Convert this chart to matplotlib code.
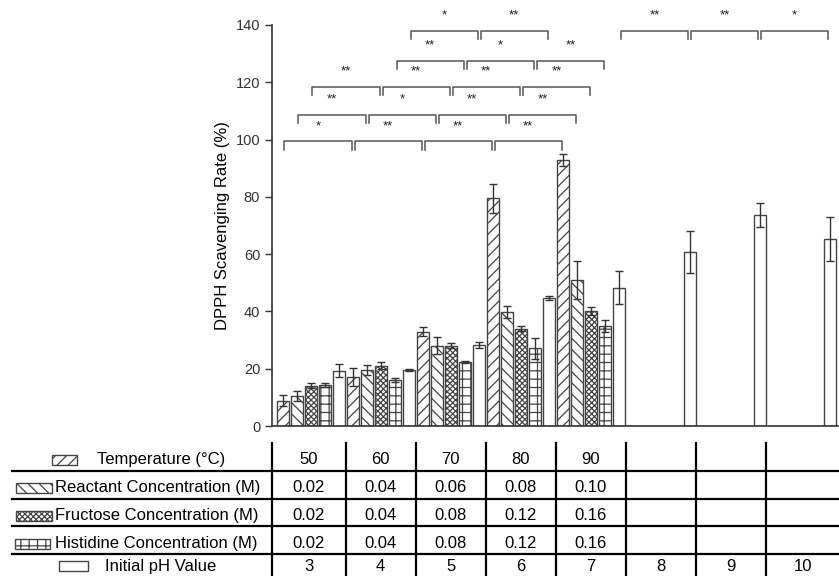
import numpy as np
import matplotlib
matplotlib.use("Agg")
import matplotlib.pyplot as plt
from matplotlib.patches import Rectangle

plt.rcParams['font.family'] = ['Liberation Sans', 'DejaVu Sans']
plt.rcParams['hatch.linewidth'] = 0.9

# data
temp_vals = [8.9, 17.0, 32.9, 79.5, 92.8]
temp_err = [2.0, 3.2, 1.6, 5.0, 2.0]
react_vals = [10.6, 19.6, 28.1, 39.8, 51.0]
react_err = [1.7, 1.7, 2.8, 2.1, 6.6]
fruc_vals = [14.1, 21.1, 28.1, 34.0, 40.1]
fruc_err = [1.0, 1.1, 1.0, 1.0, 1.4]
hist_vals = [14.3, 16.1, 22.3, 27.1, 34.9]
hist_err = [0.6, 0.6, 0.3, 3.7, 2.0]
ph_vals = [19.3, 19.6, 28.3, 44.6, 48.3, 60.8, 73.7, 65.4]
ph_err = [2.2, 0.3, 0.9, 0.7, 5.8, 7.3, 4.3, 7.7]

row_labels = ['Temperature (°C)', 'Reactant Concentration (M)', 'Fructose Concentration (M)',
              'Histidine Concentration (M)', 'Initial pH Value']
temp_levels = ['50', '60', '70', '80', '90']
react_levels = ['0.02', '0.04', '0.06', '0.08', '0.10']
fruc_levels = ['0.02', '0.04', '0.08', '0.12', '0.16']
hist_levels = ['0.02', '0.04', '0.08', '0.12', '0.16']
ph_levels = ['3', '4', '5', '6', '7', '8', '9', '10']

# significance comparisons: (group a, group b, label)
temp_sig = [(0, 1, '*'), (1, 2, '**'), (2, 3, '**'), (3, 4, '**')]
react_sig = [(0, 1, '**'), (1, 2, '*'), (2, 3, '**'), (3, 4, '**')]
fruc_sig = [(0, 1, '**'), (1, 2, '**'), (2, 3, '**'), (3, 4, '**')]
hist_sig = [(1, 2, '**'), (2, 3, '*'), (3, 4, '**')]
ph_sig = [(1, 2, '*'), (2, 3, '**'), (4, 5, '**'), (5, 6, '**'), (6, 7, '*')]

# layout
W, H = 839, 576
unit = 70.1          # px per pH column
x0_px = 272
xmax = (W - x0_px) / unit
bw = 0.171
offsets = [0.157, 0.357, 0.557, 0.757, 0.957]
edge = '#444444'

fig = plt.figure(figsize=(W / 100, H / 100), dpi=100)
ax = fig.add_axes([x0_px / W, 1 - 426 / H, (W - x0_px) / W, 401 / H])

series = [
    (temp_vals, temp_err, '///', 'white'),
    (react_vals, react_err, '\\\\\\', 'white'),
    (fruc_vals, fruc_err, 'xxxxxx', 'white'),
    (hist_vals, hist_err, '++', 'white'),
]
centers = []
for k, (vals, errs, hatch, fc) in enumerate(series):
    xs = np.arange(len(vals)) + offsets[k]
    centers.append(xs)
    ax.bar(xs, vals, width=bw, color=fc, edgecolor=edge, hatch=hatch, linewidth=1.0,
           yerr=errs, capsize=3, error_kw=dict(ecolor='#333333', elinewidth=1, capthick=1))
xs_ph = np.arange(len(ph_vals)) + offsets[4]
centers.append(xs_ph)
ax.bar(xs_ph, ph_vals, width=bw, color='white', edgecolor=edge, linewidth=1.0,
       yerr=ph_err, capsize=3, error_kw=dict(ecolor='#333333', elinewidth=1, capthick=1))

ax.set_xlim(0, xmax)
ax.set_ylim(0, 140)
ax.set_yticks(np.arange(0, 141, 20))
ax.set_xticks([])
ax.tick_params(axis='y', direction='out', length=5, width=1, labelsize=10.5, colors='#333333')
for s in ['top', 'right']:
    ax.spines[s].set_visible(False)
for s in ['left', 'bottom']:
    ax.spines[s].set_color('#333333')
    ax.spines[s].set_linewidth(1.2)
ax.set_ylabel('DPPH Scavenging Rate (%)', fontsize=12, labelpad=4)

# significance brackets
levels = [99.4, 108.7, 118.4, 127.5, 138.0]
sigs = [temp_sig, react_sig, fruc_sig, hist_sig, ph_sig]
for k, (lev, sig) in enumerate(zip(levels, sigs)):
    for a, b, lab in sig:
        xa = centers[k][a] + 0.02
        xb = centers[k][b] - 0.02
        ax.plot([xa, xa, xb, xb], [lev - 3, lev, lev, lev - 3], color='#555555',
                lw=1.1, clip_on=False)
        ax.text((xa + xb) / 2, lev + 3.2, lab, ha='center', va='bottom', fontsize=9.5,
                color='#222222', clip_on=False)

# table below the plot
row_h = 27.9
tab_top = 442.7
nrows = (H - tab_top) / row_h
tab = fig.add_axes([x0_px / W, 0, (W - x0_px) / W, (H - tab_top) / H])
tab.set_xlim(0, xmax)
tab.set_ylim(nrows, 0)
tab.axis('off')

left_x = (12 - x0_px) / unit
for r in range(1, 5):
    tab.plot([left_x, xmax], [r, r], color='black', lw=1.6, clip_on=False)
bounds = [0] + [i + 0.05 for i in range(1, 8)]
for b in bounds:
    tab.plot([b, b], [0, nrows], color='black', lw=1.6, clip_on=False)

# text height within each row (last row sits at the figure edge)
row_text_y = [0.62, 1.62, 2.62, 3.62, 4.42]

levels_rows = [temp_levels, react_levels, fruc_levels, hist_levels, ph_levels]
col_edges = bounds + [xmax]
for r, labs in enumerate(levels_rows):
    for i, lab in enumerate(labs):
        cx = (col_edges[i] + col_edges[i + 1]) / 2
        tab.text(cx, row_text_y[r], lab, ha='center', va='center', fontsize=12, clip_on=False)

# row labels with pattern swatches
swatch_px = [(52, 25), (16, 36), (16, 36), (15, 35), (59, 29)]
text_px = [97, 55, 55, 55, 105]
hatches = ['///', '\\\\\\', 'xxxxxx', '++', '']
for r in range(5):
    sx, sw = swatch_px[r]
    ty = row_text_y[r]
    tab.add_patch(Rectangle(((sx - x0_px) / unit, ty - 0.18), sw / unit, 0.36,
                            facecolor='white', edgecolor=edge, hatch=hatches[r],
                            lw=1.0, clip_on=False))
    tab.text((text_px[r] - x0_px) / unit, ty, row_labels[r], ha='left', va='center',
             fontsize=12, clip_on=False)

fig.savefig('out.png', dpi=100)
